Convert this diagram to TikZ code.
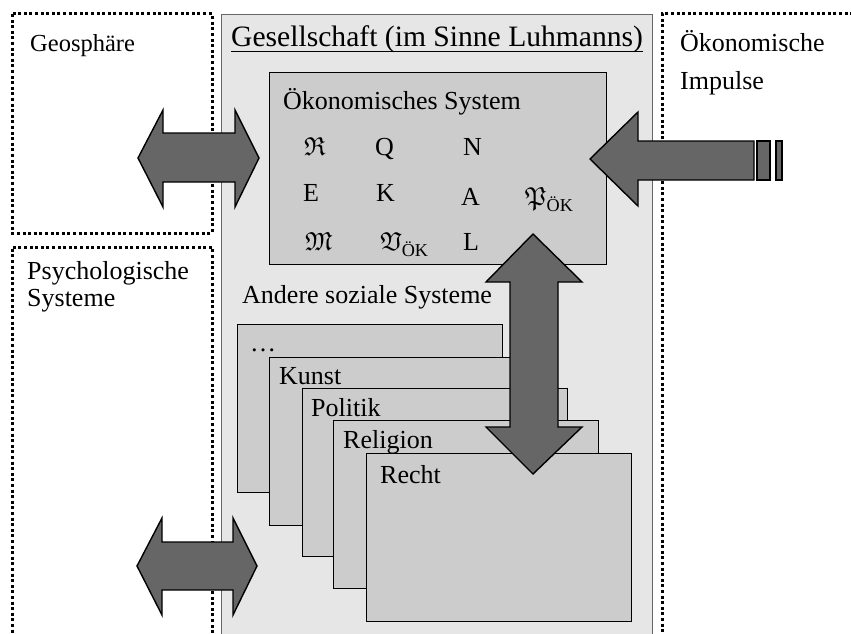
\documentclass[tikz,border=0pt]{standalone}
\usepackage{fontspec}
\setmainfont{Liberation Serif}
\usepackage{amsmath}
\usepackage{amssymb}

\definecolor{societyfill}{HTML}{E6E6E6}
\definecolor{systemfill}{HTML}{CCCCCC}
\definecolor{arrowfill}{HTML}{666666}

\tikzset{
  envbox/.style={draw=black, line width=3pt, dash pattern=on 3pt off 2.6pt},
  societybox/.style={draw=black!60, line width=0.9pt, fill=societyfill},
  sysbox/.style={draw=black, line width=1.4pt, fill=systemfill, anchor=north west,
    inner sep=0pt, minimum width=265pt, minimum height=168pt},
  blockarrow/.style={draw=black, line width=1.4pt, fill=arrowfill, line join=miter},
  lbl/.style={anchor=base west, inner sep=0pt, font=\fontsize{26}{30}\selectfont},
  sym/.style={lbl},
}

\begin{document}
\begin{tikzpicture}[x=1pt,y=-1pt]
\useasboundingbox (0,0) rectangle (851,634);
\clip (0,0) rectangle (851,634);

% surrounding environments (dotted frames)
\draw[envbox] (12,14) rectangle (212,233);
\draw[envbox] (212,650) -- (212,247) -- (12,247) -- (12,650);
\draw[envbox] (870,14) -- (662,14) -- (662,650);
\node[lbl, font=\fontsize{24.5}{28}\selectfont] (geo) at (30,52) {Geosphäre};
\node[lbl] (psy1) at (27,279) {Psychologische};
\node[lbl] (psy2) at (27,306) {Systeme};
\node[lbl] (imp1) at (680,52) {Ökonomische};
\node[lbl] (imp2) at (680,89) {Impulse};

% society
\draw[societybox] (221,14) rectangle (652,650);
\node[lbl, font=\fontsize{29.6}{32}\selectfont] (society) at (231,47)
  {Gesellschaft (im Sinne Luhmanns)};
\draw[line width=1.3pt] ([yshift=-4.5pt]society.base west) -- ([yshift=-4.5pt]society.base east);

% economic system
\node[sysbox, minimum width=337pt, minimum height=192pt] (econ) at (269,72) {};
\node[lbl] (econlbl) at (283,109) {Ökonomisches System};
\node[sym] (s11) at (304,155) {$\mathfrak{R}$};
\node[sym] (s12) at (375,155) {Q};
\node[sym] (s13) at (463,155) {N};
\node[sym] (s21) at (303,201) {E};
\node[sym] (s22) at (376,201) {K};
\node[sym] (s23) at (461,205) {A};
\node[sym] (s24) at (525,205) {$\mathfrak{P}_{\text{ÖK}}$};
\node[sym] (s31) at (305,250) {$\mathfrak{M}$};
\node[sym] (s32) at (380,250) {$\mathfrak{V}_{\text{ÖK}}$};
\node[sym] (s33) at (463,250) {L};

% other social systems
\node[lbl] (otherlbl) at (242,303) {Andere soziale Systeme};
\node[sysbox] (more) at (237,324) {};
\node[lbl] at (250,351) {\dots};
\node[sysbox] (kunst) at (269,357) {};
\node[lbl] at (279,384) {Kunst};
\node[sysbox] (politik) at (302,388) {};
\node[lbl] at (311,416) {Politik};
\node[sysbox] (religion) at (333,420) {};
\node[lbl] at (343,448) {Religion};
\node[sysbox] (recht) at (366,453) {};
\node[lbl] at (380,483) {Recht};

% exchange arrows
\draw[blockarrow] (138,158) -- (163,110) -- (163,133) -- (235,133) -- (235,110)
  -- (259,158) -- (235,207) -- (235,182) -- (163,182) -- (163,207) -- cycle;
\draw[blockarrow] (137,566) -- (162,518) -- (162,542) -- (233,542) -- (233,518)
  -- (257,566) -- (233,615) -- (233,590) -- (162,590) -- (162,615) -- cycle;
\draw[blockarrow] (590,159) -- (638,112) -- (638,141) -- (754,141) -- (754,180)
  -- (638,180) -- (638,206) -- cycle;
\draw[blockarrow] (757,141) rectangle (770,180);
\draw[blockarrow] (776,141) rectangle (782,180);
\draw[blockarrow] (533,234) -- (582,282) -- (558,282) -- (558,427) -- (582,427)
  -- (533,474) -- (486,427) -- (510,427) -- (510,282) -- (486,282) -- cycle;
\end{tikzpicture}
\end{document}
